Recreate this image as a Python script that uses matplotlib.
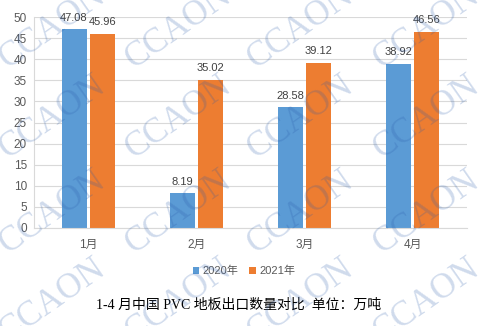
import matplotlib.pyplot as plt
import numpy as np

plt.rcParams['font.family'] = ['Liberation Sans', 'Noto Sans CJK SC']

months = ['1月', '2月', '3月', '4月']
y2020 = [47.08, 8.19, 28.58, 38.92]
y2021 = [45.96, 35.02, 39.12, 46.56]
series_names = ['2020年', '2021年']
title = '1-4 月中国 PVC 地板出口数量对比  单位：万吨'

blue = '#5B9BD5'
orange = '#ED7D31'

fig = plt.figure(figsize=(4.83, 3.26), dpi=100)
ax = fig.add_axes([34 / 483, 1 - 228 / 326, 433 / 483, 211 / 326])

x = np.arange(len(months))
w = 0.23
b1 = ax.bar(x - 0.13, y2020, w, color=blue, label=series_names[0], zorder=2)
b2 = ax.bar(x + 0.13, y2021, w, color=orange, label=series_names[1], zorder=2)

for bars, vals in ((b1, y2020), (b2, y2021)):
    for r, v in zip(bars, vals):
        ax.text(r.get_x() + r.get_width() / 2, v + 1.6, f'{v:.2f}', ha='center', va='bottom',
                fontsize=8, color='#404040')

ax.set_xlim(-0.5, 3.5)
ax.set_ylim(0, 50)
ax.set_yticks(range(0, 51, 5))
ax.set_xticks(x)
ax.set_xticklabels(months)
ax.tick_params(axis='both', length=0, labelsize=8.5, colors='#595959', pad=5)
ax.tick_params(axis='x', pad=8)
ax.grid(axis='y', color='#d9d9d9', linewidth=0.8, zorder=0)
for s in ['top', 'right']:
    ax.spines[s].set_visible(False)
ax.spines['left'].set_color('#d9d9d9')
ax.spines['bottom'].set_color('#d9d9d9')

fig.legend(handles=[b1, b2], loc='center', bbox_to_anchor=(244 / 483, 1 - 271 / 326), ncol=2,
           frameon=False, fontsize=8, handlelength=0.6, handleheight=0.6, columnspacing=1.0,
           handletextpad=0.3, labelcolor='#595959')

fig.text(239 / 483, 1 - 305 / 326, title, ha='center', va='center', fontsize=10, color='black',
         family=['Liberation Serif', 'Noto Sans CJK SC'])

# watermark grid
wm_x = [52, 178, 300, 426]
wm_y = [27, 117, 212, 300]
for py in wm_y:
    for px in wm_x:
        fig.text(px / 483, 1 - py / 326, 'CCAON', ha='center', va='center', rotation=35,
                 rotation_mode='anchor', fontsize=25, color='#285aaa', alpha=0.22,
                 family='Liberation Serif', zorder=10)

fig.savefig('out.png', dpi=100)
